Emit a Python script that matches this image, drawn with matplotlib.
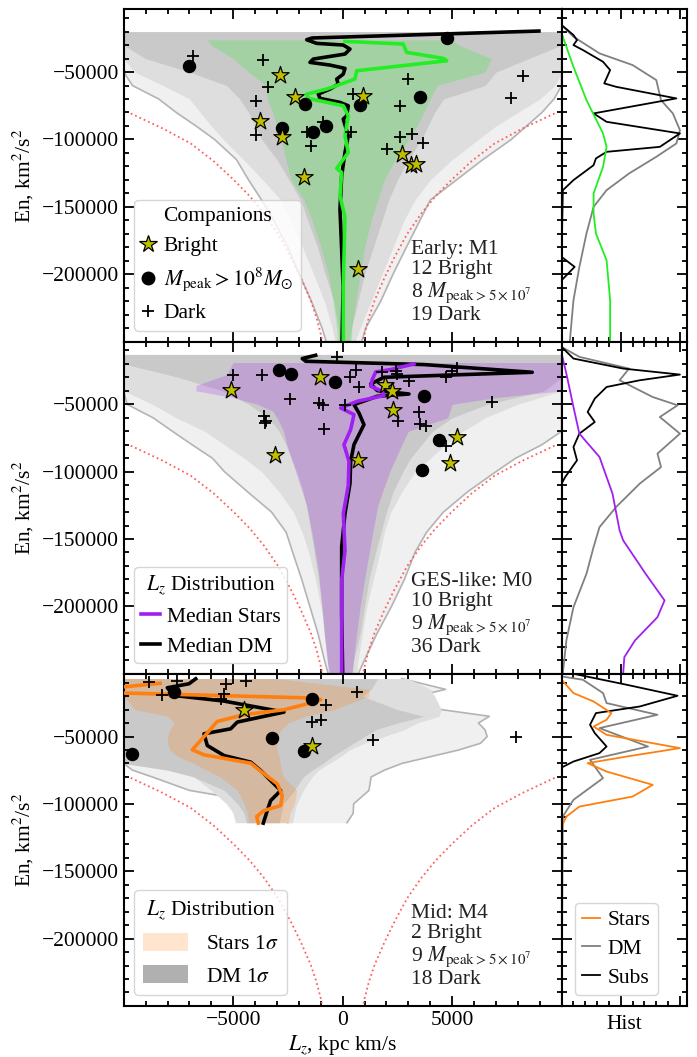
import matplotlib
matplotlib.use("Agg")
import matplotlib.pyplot as plt
from matplotlib.gridspec import GridSpec
from matplotlib.ticker import MultipleLocator, ScalarFormatter, NullFormatter
from matplotlib.lines import Line2D
from matplotlib.patches import Patch

plt.rcParams.update({
    "font.family": "serif",
    "font.serif": ["Liberation Serif", "DejaVu Serif"],
    "mathtext.fontset": "stix",
    "font.size": 15.5,
    "axes.linewidth": 1.5,
})

# ---------------------------------------------------------------- envelope
# circular-orbit limit |Lz|(E); the positive branch mirrors the negative one
CIRC_E = [-80700, -92000, -103000, -116000, -130200, -142000, -155000,
          -170000, -187200, -203000, -219400, -232000, -244100, -250000]
CIRC_LZ = [-9680, -8200, -6940, -5900, -4960, -4250, -3590,
           -2950, -2374, -1900, -1461, -1200, -1005, -930]

# ---------------------------------------------------------------- Early: M1
M1_BAND_E = [-20000, -25000, -30000, -40000, -50000, -60000, -70000, -80000, -90000,
             -100000, -115000, -130000, -145000, -160000, -180000, -200000, -220000,
             -240000, -250000]
M1_OUTER_L = [-10000, -10000, -10000, -10000, -10000, -9600, -8400, -7600, -6700,
              -5850, -4850, -4300, -3700, -3150, -2500, -1980, -1430, -940, -750]
M1_OUTER_R = [10000, 10000, 10000, 10000, 10000, 10000, 9650, 9100, 8400,
              7700, 6400, 5200, 4000, 3530, 2910, 2300, 1740, 1050, 870]
M1_MID_L = [-10000, -10000, -10000, -10000, -9500, -8200, -7000, -6500, -6000,
            -5450, -4530, -3650, -2830, -2400, -1830, -1330, -840, -470, -350]
M1_MID_R = [10000, 10000, 10000, 10000, 10000, 9700, 9000, 8000, 7000,
            6200, 5000, 4000, 3300, 2800, 2300, 1800, 1300, 800, 560]
M1_DARK_L = [-10000, -10000, -10000, -9000, -7000, -5300, -4700, -4300, -4000,
             -3700, -3000, -2450, -1920, -1600, -1150, -800, -400, -200, -150]
M1_DARK_R = [10000, 10000, 10000, 8500, 7000, 6500, 4600, 4200, 3900,
             3600, 3000, 2500, 2100, 1800, 1400, 1000, 700, 400, 330]
M1_STAR_E = [-26000, -30000, -40000, -50000, -60000, -70000, -80000, -90000, -100000,
             -115000, -130000, -145000, -160000, -180000, -200000, -220000, -240000, -250000]
M1_STAR_L = [-6200, -6000, -5000, -4300, -3500, -3450, -3200, -3000, -2800,
             -2600, -2350, -1770, -1400, -1000, -650, -450, -280, -250]
M1_STAR_R = [5000, 5300, 6800, 6500, 4300, 4000, 3700, 3400, 3000,
             2400, 1900, 1600, 1300, 1000, 800, 600, 420, 400]
M1_DMMED_E = [-19540, -24700, -26000, -28680, -29940, -32910, -36630, -40340, -42800,
              -44800, -47250, -51490, -55200, -58910, -62630, -66340, -69540, -72510,
              -75000, -82460, -84920, -97320, -109700, -127000, -151800, -180000,
              -210000, -250000]
M1_DMMED_LZ = [8963, -1400, -1644, -1187, 27, 333, 105, -1342, -1493,
               -580, 105, 27, -274, -201, -580, -1114, -1036, -123,
               256, 183, 27, 256, 105, -46, -123, -50, 20, -30]
M1_STMED_E = [-27200, -29200, -35370, -39820, -41600, -49030, -55200, -62630, -66340,
              -69540, -75000, -82460, -97320, -109700, -121540, -124500, -141900,
              -157500, -207000, -250000]
M1_STMED_LZ = [105, 2767, 2920, 4594, 4750, 640, 560, -730, -1644,
               -1570, 27, 256, 105, 256, -274, -46, -123, 105, 30, 30]
M1_DARK_LZ = [-6850, -3625, -3397, -3959, -3959, -913, -1644, -1447, 484, 2995, 2616,
              8219, 7685, 379, 2616, 3164, 3680, 2009]
M1_DARK_EN = [-38110, -41080, -60920, -71320, -96800, -86920, -94350, -104750, -66570,
              -55420, -75260, -52970, -69320, -94350, -98060, -96300, -102520, -107430]
M1_MASS_LZ = [-7018, -1721, -2785, -1342, -776, 4776, 3530, 790]
M1_MASS_EN = [-45540, -73990, -91830, -94350, -89890, -24520, -68350, -74740]
M1_BRIGHT_LZ = [-2863, -2178, -3776, -2785, -1767, 941, 2694, 3119, 3347, 713]
M1_BRIGHT_EN = [-52230, -68800, -86400, -98510, -127780, -67600, -111140, -119090,
                -118570, -195830]
M1_HSUB_E = [-15100, -22510, -26230, -29940, -33660, -42350, -48510, -58400, -60920,
             -69540, -80680, -86920, -95540, -105500, -109200, -114100, -119100,
             -130200, -137700, -187200, -194600, -204500, -250000]
M1_HSUB = [0, 0.10, 0.13, 0.10, 0.18, 0.35, 0.41, 0.36, 0.46, 0.97, 0.27, 0.38, 1.0,
           0.83, 0.38, 0.29, 0.27, 0.10, 0.01, 0.0, 0.11, 0.0, 0.0]
M1_HDM_E = [-15100, -23780, -36110, -44800, -55940, -70800, -80680, -93090, -102970,
            -112900, -125260, -137660, -150070, -169830, -194640, -219380, -249100]
M1_HDM = [0, 0.10, 0.32, 0.60, 0.80, 0.84, 0.94, 1.0, 0.97, 0.80, 0.57, 0.38, 0.27,
          0.21, 0.15, 0.10, 0.07]
M1_HST_E = [-21250, -46060, -70800, -95540, -105500, -120360, -140100, -154970,
            -169830, -189670, -219380, -249100]
M1_HST = [0, 0.10, 0.21, 0.35, 0.38, 0.35, 0.27, 0.27, 0.29, 0.38, 0.41, 0.41]

# ---------------------------------------------------------------- GES-like: M0
M0_BAND_E = [-13000, -20000, -30000, -40000, -50000, -60000, -70000, -80000, -90000,
             -100000, -115000, -130000, -145000, -160000, -180000, -200000, -220000,
             -240000, -250000]
M0_OUTER_L = [-10000, -10000, -10000, -10000, -9850, -8660, -7780, -6880, -5950,
              -5400, -4340, -3250, -2580, -2280, -1870, -1500, -1130, -830, -660]
M0_OUTER_R = [10000, 10000, 10000, 10000, 10000, 10000, 10000, 9100, 7900,
              7000, 5700, 4600, 3830, 3300, 2820, 2230, 1570, 990, 713]
M0_MID_L = [-10000, -10000, -10000, -10000, -8700, -7600, -6300, -5400, -4500,
            -3700, -2900, -2250, -1850, -1550, -1250, -1000, -800, -650, -580]
M0_MID_R = [10000, 10000, 10000, 10000, 8000, 6500, 5500, 4700, 4000,
            3300, 2700, 2200, 1900, 1700, 1400, 1100, 900, 700, 640]
M0_DARK_L = [-10000, -10000, -7500, -5500, -4300, -3400, -2900, -2600, -2350,
             -2100, -1800, -1600, -1450, -1300, -1100, -950, -850, -700, -600]
M0_DARK_R = [10000, 10000, 10000, 9200, 6600, 5000, 4100, 3600, 3100,
             2750, 2300, 2000, 1750, 1500, 1200, 1000, 800, 500, 450]
M0_STAR_E = [-19000, -28000, -36000, -40000, -45000, -50000, -55000, -60000, -70000,
             -80000, -100000, -125000, -150000, -175000, -200000, -225000, -250000]
M0_STAR_L = [-5000, -5300, -6700, -6700, -5000, -3900, -3200, -3000, -2700,
             -2550, -2150, -1650, -1350, -1100, -950, -800, -650]
M0_STAR_R = [10000, 10000, 10000, 10000, 7000, 5000, 4900, 4800, 3000,
             2700, 2150, 1600, 1320, 1050, 800, 600, 420]
M0_DMMED_E = [-13600, -16050, -18060, -20510, -26230, -29940, -34920, -39820, -42350,
              -44060, -50220, -56460, -65080, -79940, -92350, -108900, -131200,
              -156000, -205300, -250000]
M0_DMMED_LZ = [-1233, -1845, -1690, 3712, 8657, 1886, 1278, 1580, 3027,
               1580, 516, 744, 972, 516, 365, 333, 105, -46, -46, 0]
M0_STMED_E = [-20060, -24220, -25990, -31650, -36630, -40340, -43540, -47770, -52750,
              -57650, -68800, -79940, -92350, -110200, -131200, -158600, -180800, -250000]
M0_STMED_LZ = [3256, 2190, 1507, 1352, 1278, 1808, 1886, 667, -91,
               516, 365, 59, 288, 256, 30, 105, -46, -46]
M0_DARK_LZ = [-247, -4995, -3700, 594, 333, 744, -2406, -1082, -886, 105, -854, -3593,
              -3548, -3480, 1808, 2420, 2466, 3027, 4703, 5004, 5233, 6803, 3484, 2525,
              3516, 3817, 4730]
M0_DARK_EN = [-15080, -28460, -28460, -24220, -29940, -37370, -45770, -49030, -50740,
              -50740, -68050, -58910, -63890, -62630, -25990, -24960, -27480, -32390,
              -29940, -25480, -23030, -48290, -55720, -62630, -64630, -66340, -81200]
M0_MASS_LZ = [-2909, -2375, -365, 3712, 4397, 3607]
M0_MASS_EN = [-24740, -27480, -33430, -44060, -76220, -98510]
M0_BRIGHT_LZ = [-5086, -1050, 1931, 2265, 2311, -3091, 712, 5205, 4899]
M0_BRIGHT_EN = [-39080, -29940, -35370, -40340, -53940, -87370, -91600, -74520, -93610]
M0_HSUB_E = [-7430, -16050, -23480, -27940, -32170, -37150, -45770, -55720, -63150,
             -71800, -81720, -91600, -104000, -108900, -250000]
M0_HSUB = [0, 0.10, 0.52, 1.0, 0.66, 0.38, 0.28, 0.22, 0.28, 0.15, 0.10, 0.13, 0.03, 0, 0]
M0_HDM_E = [-7430, -14800, -23480, -32170, -44600, -50740, -59440, -71800, -86600,
            -96600, -108900, -126300, -141200, -156000, -175800, -200600, -225300, -250000]
M0_HDM = [0, 0.15, 0.57, 0.49, 0.77, 0.98, 0.83, 1.0, 0.81, 0.84, 0.66, 0.46, 0.32,
          0.27, 0.21, 0.10, 0.04, 0.01]
M0_HST_E = [-12330, -27200, -52000, -71800, -89100, -116300, -143600, -151000,
            -175800, -195600, -208000, -225300, -237700, -250000]
M0_HST = [0, 0.04, 0.10, 0.15, 0.32, 0.43, 0.49, 0.52, 0.71, 0.87, 0.81, 0.62, 0.53, 0.52]

# ---------------------------------------------------------------- Mid: M4
M4_BAND_E = [-7000, -15000, -20000, -30000, -35000, -40000, -45000, -50000, -55000,
             -60000, -65000, -70000, -75000, -80000, -90000, -100000, -107000, -114000]
M4_OUTER_L = [-10000, -10000, -10000, -10000, -10000, -10000, -10000, -10000, -10000,
              -10000, -10000, -10000, -9600, -8700, -7000, -3400, -2800, -2500]
M4_OUTER_R = [2700, 4700, 3400, 4500, 6700, 6200, 6500, 6600, 6300,
              5300, 4000, 2700, 1900, 1300, 1200, 500, 480, 200]
M4_MID_L = [-10000, -10000, -10000, -10000, -10000, -10000, -10000, -10000, -10000,
            -10000, -10000, -9200, -7600, -6800, -6000, -5300, -5000, -4900]
M4_MID_R = [3000, 4000, 4200, 4500, 4400, 3400, 2800, 1900, 1000,
            300, -100, -600, -1100, -1400, -1800, -2100, -2200, -2300]
M4_DARK_L = [-10000, -10000, -10000, -10000, -10000, -10000, -10000, -10000, -10000,
             -10000, -10000, -10000, -8000, -6800, -5400, -4800, -4500, -4400]
M4_DARK_R = [1600, 1300, 900, 2500, 3700, 2500, 1500, 1000, 500,
             0, -500, -900, -1400, -1800, -2200, -2700, -2800, -2900]
M4_STAR_E = M4_BAND_E
M4_STAR_L = [-10000, -10000, -10000, -9500, -8000, -7700, -7900, -8000, -8000,
             -7900, -7500, -6800, -6200, -5600, -4800, -4500, -4350, -4300]
M4_STAR_R = [-3000, 1200, 1200, -400, -1700, -2500, -2800, -3000, -3000,
             -3000, -2900, -2850, -2800, -2700, -2100, -2200, -2400, -2500]
M4_DMMED_E = [-7140, -10850, -13820, -19540, -23700, -31870, -39300, -44280, -48000,
              -56690, -64120, -69020, -75260, -80160, -90120, -97550, -104980, -114300]
M4_DMMED_LZ = [-6712, -7018, -8009, -7703, -5420, -2680, -4813, -5114, -6333,
               -6182, -5420, -4200, -3744, -3443, -2831, -3288, -3443, -3625]
M4_STMED_E = [-10500, -14000, -17000, -17720, -21400, -22700, -26400, -30120, -33830,
              -38810, -48700, -59840, -63570, -69770, -77700, -85140, -93840, -101250,
              -104980, -109400, -114300]
M4_STMED_LZ = [-8342, -10500, -10500, -9986, -1461, -1005, -1767, -2680, -4507,
               -5726, -6256, -6867, -6333, -4200, -3593, -2986, -2758, -2831,
               -3593, -3926, -3854]
M4_DARK_LZ = [-8845, -7552, -5342, -4402, -8237, -5420, -5570, 667, -776, -1416, -977,
              1383, 7900]
M4_DARK_EN = [-9590, -8850, -10850, -8850, -19540, -18800, -21990, -17020, -26970,
              -39300, -37590, -52450, -50450]
M4_MASS_LZ = [-7703, -1388, -3214, -1767, -9607]
M4_MASS_EN = [-17020, -21990, -51200, -60840, -62850]
M4_BRIGHT_LZ = [-4507, -1388]
M4_BRIGHT_EN = [-30120, -56690]
M4_HSUB_E = [-3420, -11590, -19760, -27720, -32620, -41300, -47470, -57430, -62330,
             -68570, -73000, -250000]
M4_HSUB = [0.10, 0.55, 0.98, 0.66, 0.29, 0.24, 0.28, 0.38, 0.32, 0.10, 0, 0]
M4_HDM_E = [-5420, -7880, -17760, -25200, -33880, -43760, -57430, -67310, -80900,
            -97000, -109400, -250000]
M4_HDM = [0, 0.18, 0.35, 0.38, 0.81, 0.32, 0.73, 0.24, 0.35, 0.10, 0.01, 0]
M4_HST_E = [-7880, -17760, -24000, -32620, -37590, -42570, -48740, -58620, -64860,
            -69760, -76000, -85890, -94570, -102000, -109430, -116900, -250000]
M4_HST = [0, 0.10, 0.27, 0.42, 0.38, 0.27, 0.38, 1.0, 0.55, 0.22, 0.38, 0.77, 0.60,
          0.15, 0.04, 0, 0]

PANEL_TEXT = [
    "Early: M1\n12 Bright\n8 $M_{\\rm peak>5\\times10^7}$\n19 Dark",
    "GES-like: M0\n10 Bright\n9 $M_{\\rm peak>5\\times10^7}$\n36 Dark",
    "Mid: M4\n2 Bright\n9 $M_{\\rm peak>5\\times10^7}$\n18 Dark",
]
STAR_COLORS = ["#22ee22", "#a020f0", "#ff7f0e"]

C_OUTER = "#f0f0f0"
C_MID = "#dedede"
C_DARK = "#c9c9c9"
C_EDGE = "#b4b4b4"

fig = plt.figure(figsize=(6.97, 10.57), dpi=100)
gs = GridSpec(3, 2, width_ratios=[437.7, 125], hspace=0, wspace=0,
              left=0.1775, right=0.9852, top=0.9912, bottom=0.0483)

panels = [
    dict(band_e=M1_BAND_E, ol=M1_OUTER_L, orr=M1_OUTER_R, ml=M1_MID_L, mr=M1_MID_R,
         dl=M1_DARK_L, dr=M1_DARK_R, se=M1_STAR_E, sl=M1_STAR_L, sr=M1_STAR_R,
         dmm=(M1_DMMED_LZ, M1_DMMED_E), stm=(M1_STMED_LZ, M1_STMED_E),
         dark=(M1_DARK_LZ, M1_DARK_EN), mass=(M1_MASS_LZ, M1_MASS_EN),
         bright=(M1_BRIGHT_LZ, M1_BRIGHT_EN),
         hsub=(M1_HSUB, M1_HSUB_E), hdm=(M1_HDM, M1_HDM_E), hst=(M1_HST, M1_HST_E)),
    dict(band_e=M0_BAND_E, ol=M0_OUTER_L, orr=M0_OUTER_R, ml=M0_MID_L, mr=M0_MID_R,
         dl=M0_DARK_L, dr=M0_DARK_R, se=M0_STAR_E, sl=M0_STAR_L, sr=M0_STAR_R,
         dmm=(M0_DMMED_LZ, M0_DMMED_E), stm=(M0_STMED_LZ, M0_STMED_E),
         dark=(M0_DARK_LZ, M0_DARK_EN), mass=(M0_MASS_LZ, M0_MASS_EN),
         bright=(M0_BRIGHT_LZ, M0_BRIGHT_EN),
         hsub=(M0_HSUB, M0_HSUB_E), hdm=(M0_HDM, M0_HDM_E), hst=(M0_HST, M0_HST_E)),
    dict(band_e=M4_BAND_E, ol=M4_OUTER_L, orr=M4_OUTER_R, ml=M4_MID_L, mr=M4_MID_R,
         dl=M4_DARK_L, dr=M4_DARK_R, se=M4_STAR_E, sl=M4_STAR_L, sr=M4_STAR_R,
         dmm=(M4_DMMED_LZ, M4_DMMED_E), stm=(M4_STMED_LZ, M4_STMED_E),
         dark=(M4_DARK_LZ, M4_DARK_EN), mass=(M4_MASS_LZ, M4_MASS_EN),
         bright=(M4_BRIGHT_LZ, M4_BRIGHT_EN),
         hsub=(M4_HSUB, M4_HSUB_E), hdm=(M4_HDM, M4_HDM_E), hst=(M4_HST, M4_HST_E)),
]


def style_ticks(ax):
    ax.tick_params(which="both", direction="in", top=True, right=True, width=1.3)
    ax.tick_params(which="major", length=7)
    ax.tick_params(which="minor", length=3.5)


for i, p in enumerate(panels):
    ax = fig.add_subplot(gs[i, 0])
    hax = fig.add_subplot(gs[i, 1], sharey=ax)
    col = STAR_COLORS[i]

    # dark-matter spread: three nested bands
    ax.fill_betweenx(p["band_e"], p["ol"], p["orr"], color=C_OUTER, lw=0, zorder=1)
    ax.plot(p["ol"], p["band_e"], color=C_EDGE, lw=1.2, zorder=1.1)
    ax.plot(p["orr"], p["band_e"], color=C_EDGE, lw=1.2, zorder=1.1)
    ax.fill_betweenx(p["band_e"], p["ml"], p["mr"], color=C_MID, lw=0, zorder=1.2)
    ax.fill_betweenx(p["band_e"], p["dl"], p["dr"], color=C_DARK, lw=0, zorder=1.3)
    # stellar 1-sigma band
    ax.fill_betweenx(p["se"], p["sl"], p["sr"], color=col, alpha=0.22, lw=0, zorder=1.5)

    # circular-orbit envelope
    ax.plot(CIRC_LZ, CIRC_E, color="#ff6060", ls=":", lw=1.3, zorder=1.6)
    ax.plot([-v for v in CIRC_LZ], CIRC_E, color="#ff6060", ls=":", lw=1.3, zorder=1.6)

    # medians
    ax.plot(*p["dmm"], color="black", lw=2.6, zorder=3)
    ax.plot(*p["stm"], color=col, lw=2.6, zorder=3.1)

    # companions
    ax.scatter(*p["dark"], marker="+", s=75, color="black", lw=1.3, zorder=4)
    ax.scatter(*p["mass"], marker="o", s=75, color="black", zorder=4)
    ax.scatter(*p["bright"], marker="*", s=170, facecolor="y", edgecolor="black",
               lw=0.9, zorder=5)

    ax.text(0.655, 0.05, PANEL_TEXT[i], transform=ax.transAxes, ha="left",
            va="bottom", linespacing=1.08, color="#222222")

    ax.set_xlim(-10000, 10000)
    ax.set_ylim(-250000, -3400)
    ax.set_xticks([-5000, 0, 5000])
    ax.xaxis.set_minor_locator(MultipleLocator(1000))
    ax.set_yticks([-200000, -150000, -100000, -50000])
    ax.yaxis.set_minor_locator(MultipleLocator(10000))
    fmt = ScalarFormatter(useOffset=False)
    fmt.set_scientific(False)
    ax.yaxis.set_major_formatter(fmt)
    style_ticks(ax)
    ax.set_ylabel("En, km$^2$/s$^2$", labelpad=4)
    if i < 2:
        ax.xaxis.set_major_formatter(NullFormatter())
    else:
        ax.set_xlabel("$L_z$, kpc km/s", labelpad=2)

    # energy histograms
    hax.plot(*p["hdm"], color="#808080", lw=1.3, label="DM")
    hax.plot(*p["hsub"], color="black", lw=1.3, label="Subs")
    hax.plot(*p["hst"], color=col, lw=1.3, label="Stars")
    hax.set_xlim(0, 1.057)
    hax.xaxis.set_major_locator(MultipleLocator(0.5))
    hax.xaxis.set_minor_locator(MultipleLocator(0.1))
    hax.xaxis.set_major_formatter(NullFormatter())
    hax.tick_params(labelleft=False)
    style_ticks(hax)
    if i == 2:
        hax.set_xlabel("Hist", labelpad=3)
        h_handles = [Line2D([], [], color=STAR_COLORS[2], lw=1.3),
                     Line2D([], [], color="#808080", lw=1.3),
                     Line2D([], [], color="black", lw=1.3)]
        hax.legend(h_handles, ["Stars", "DM", "Subs"], loc="lower left",
                   handlelength=0.8, handletextpad=0.35, borderpad=0.35,
                   labelspacing=0.4, bbox_to_anchor=(0.02, 0.0))

    if i == 0:
        handles = [Line2D([], [], ls="none", marker="*", ms=13, mfc="y", mec="black", mew=0.9),
                   Line2D([], [], ls="none", marker="o", ms=9, color="black"),
                   Line2D([], [], ls="none", marker="+", ms=9, mew=1.3, color="black")]
        ax.legend(handles, ["Bright", "$M_{\\rm peak}>10^8M_{\\odot}$", "Dark"],
                  title="Companions", loc="lower left", handlelength=0.6,
                  handletextpad=0.4, borderpad=0.35, labelspacing=0.45)
    elif i == 1:
        handles = [Line2D([], [], color=STAR_COLORS[1], lw=2.6),
                   Line2D([], [], color="black", lw=2.6)]
        ax.legend(handles, ["Median Stars", "Median DM"], title="$L_z$ Distribution",
                  loc="lower left", handlelength=0.9, handletextpad=0.3,
                  borderpad=0.3, labelspacing=0.45)
    else:
        handles = [Patch(facecolor=STAR_COLORS[2], alpha=0.2, lw=0),
                   Patch(facecolor="#b0b0b0", lw=0)]
        ax.legend(handles, ["Stars 1$\\sigma$", "DM 1$\\sigma$"], title="$L_z$ Distribution",
                  loc="lower left", handlelength=2.1, handleheight=0.9,
                  handletextpad=0.8, borderpad=0.4, labelspacing=0.5)

fig.savefig("out.png", dpi=100)
